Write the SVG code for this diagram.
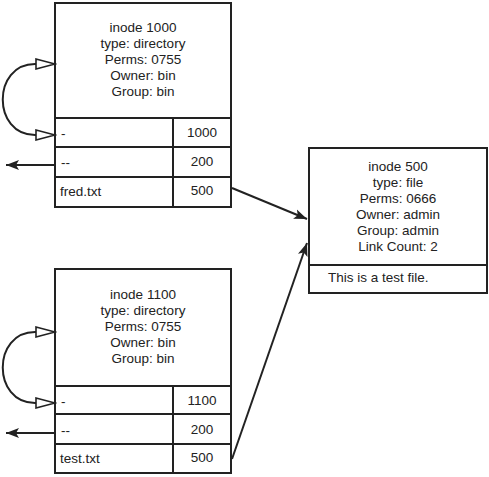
<svg xmlns="http://www.w3.org/2000/svg" width="489" height="477" viewBox="0 0 489 477">
<defs>
<style>
.box{fill:#fff;stroke:#222;stroke-width:2}
.ln{stroke:#222;stroke-width:2;fill:none}
text{font-family:"Liberation Sans",Arial,sans-serif;font-size:13.5px;fill:#222}
.c{text-anchor:middle}
</style>
<marker id="open" markerUnits="userSpaceOnUse" markerWidth="22" markerHeight="12" refX="20" refY="6" orient="auto-start-reverse" viewBox="0 0 22 12">
<path d="M1,1 L20,6 L1,11 z" fill="#fff" stroke="#222" stroke-width="1.6"/>
</marker>
<marker id="fill" markerUnits="userSpaceOnUse" markerWidth="14" markerHeight="12" refX="13" refY="6" orient="auto" viewBox="0 0 14 12">
<path d="M0,1 L13,6 L0,11 L3,6 z" fill="#222"/>
</marker>
</defs>

<g id="inode1000">
<rect class="box" x="55" y="3" width="176" height="204"/>
<line class="ln" x1="55" y1="118" x2="231" y2="118"/>
<line class="ln" x1="55" y1="147" x2="231" y2="147"/>
<line class="ln" x1="55" y1="177" x2="231" y2="177"/>
<line class="ln" x1="173" y1="118" x2="173" y2="207"/>
<text class="c" x="143" y="32">inode 1000</text>
<text class="c" x="143" y="48">type: directory</text>
<text class="c" x="143" y="64">Perms: 0755</text>
<text class="c" x="143" y="80">Owner: bin</text>
<text class="c" x="143" y="96">Group: bin</text>
<text x="61" y="138">-</text>
<text class="c" x="202" y="137">1000</text>
<text x="61" y="167">--</text>
<text class="c" x="202" y="166">200</text>
<text x="60" y="196">fred.txt</text>
<text class="c" x="202" y="195">500</text>
</g>

<g id="inode1100">
<rect class="box" x="55" y="269" width="176" height="204"/>
<line class="ln" x1="55" y1="386" x2="231" y2="386"/>
<line class="ln" x1="55" y1="414" x2="231" y2="414"/>
<line class="ln" x1="55" y1="444" x2="231" y2="444"/>
<line class="ln" x1="173" y1="386" x2="173" y2="473"/>
<text class="c" x="143" y="299">inode 1100</text>
<text class="c" x="143" y="315">type: directory</text>
<text class="c" x="143" y="331">Perms: 0755</text>
<text class="c" x="143" y="347">Owner: bin</text>
<text class="c" x="143" y="363">Group: bin</text>
<text x="61" y="406">-</text>
<text class="c" x="202" y="405">1100</text>
<text x="61" y="435">--</text>
<text class="c" x="202" y="434">200</text>
<text x="60" y="463">test.txt</text>
<text class="c" x="202" y="462">500</text>
</g>

<g id="inode500">
<rect class="box" x="309" y="148" width="178" height="145"/>
<line class="ln" x1="309" y1="265" x2="487" y2="265"/>
<text class="c" x="398" y="171">inode 500</text>
<text class="c" x="398" y="187">type: file</text>
<text class="c" x="398" y="203">Perms: 0666</text>
<text class="c" x="398" y="219">Owner: admin</text>
<text class="c" x="398" y="235">Group: admin</text>
<text class="c" x="398" y="251">Link Count: 2</text>
<text x="328" y="282">This is a test file.</text>
</g>

<g id="connectors">
<path class="ln" d="M55,64 L35,64 C-8,64 -8,135 35,135 L55,135" marker-start="url(#open)" marker-end="url(#open)"/>
<path class="ln" d="M55,332 L35,332 C-8,332 -8,403 35,403 L55,403" marker-start="url(#open)" marker-end="url(#open)"/>
<line class="ln" x1="55" y1="165" x2="6" y2="165" marker-end="url(#fill)"/>
<line class="ln" x1="55" y1="433" x2="6" y2="433" marker-end="url(#fill)"/>
<line class="ln" x1="232" y1="188" x2="307" y2="219" marker-end="url(#fill)"/>
<line class="ln" x1="232" y1="459" x2="307" y2="243" marker-end="url(#fill)"/>
</g>
</svg>
